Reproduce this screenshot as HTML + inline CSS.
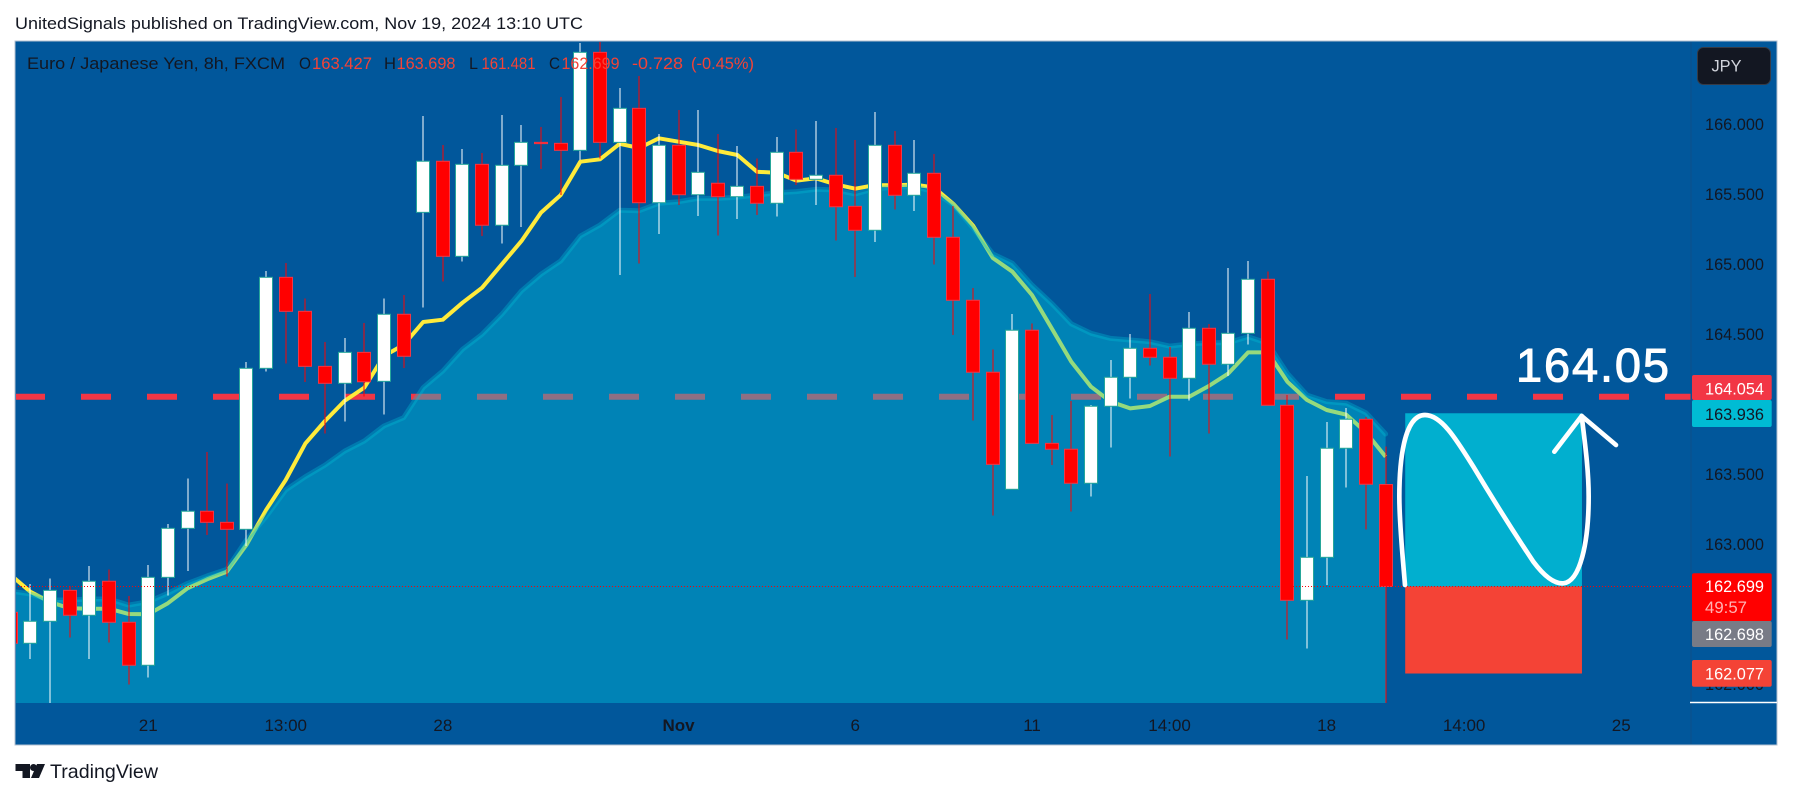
<!DOCTYPE html>
<html lang="en">
<head>
<meta charset="utf-8">
<title>EUR/JPY 8h chart</title>
<style>
html,body{margin:0;padding:0;background:#fff;width:1793px;height:798px;overflow:hidden}
svg{display:block;font-family:"Liberation Sans",Arial,sans-serif}
</style>
</head>
<body>
<svg id="chart" xmlns="http://www.w3.org/2000/svg" width="1793" height="798" viewBox="0 0 1793 798">
  <defs>
    <clipPath id="paneClip"><rect x="16" y="42" width="1675" height="661"/></clipPath>
  </defs>
  <rect x="0" y="0" width="1793" height="798" fill="#ffffff"/>
  <text x="15" y="29" font-size="17" fill="#131722" textLength="568" lengthAdjust="spacingAndGlyphs">UnitedSignals published on TradingView.com, Nov 19, 2024 13:10 UTC</text>
  <rect x="15" y="41" width="1762" height="704" fill="#01579b" stroke="#b4c0d0" stroke-width="1"/>
  <g id="paneMarks" clip-path="url(#paneClip)"></g>
  <line x1="1691" y1="42" x2="1691" y2="744" stroke="#0d4f8a" stroke-width="1"/>
  <line x1="1690" y1="702.5" x2="1777" y2="702.5" stroke="#ffffff" stroke-width="1.5"/>
  <g id="legend" font-size="17">
    <text x="27" y="69" fill="#131722" textLength="258" lengthAdjust="spacingAndGlyphs">Euro / Japanese Yen, 8h, FXCM</text>
    <text x="299" y="69" fill="#131722" textLength="12" lengthAdjust="spacingAndGlyphs">O</text>
    <text x="312" y="69" fill="#f44336" textLength="60" lengthAdjust="spacingAndGlyphs">163.427</text>
    <text x="384" y="69" fill="#131722" textLength="12" lengthAdjust="spacingAndGlyphs">H</text>
    <text x="396.5" y="69" fill="#f44336" textLength="59" lengthAdjust="spacingAndGlyphs">163.698</text>
    <text x="469" y="69" fill="#131722" textLength="9" lengthAdjust="spacingAndGlyphs">L</text>
    <text x="481.5" y="69" fill="#f44336" textLength="54" lengthAdjust="spacingAndGlyphs">161.481</text>
    <text x="549" y="69" fill="#131722" textLength="11" lengthAdjust="spacingAndGlyphs">C</text>
    <text x="561.5" y="69" fill="#f44336" textLength="58" lengthAdjust="spacingAndGlyphs">162.699</text>
    <text x="632" y="69" fill="#f44336" textLength="51" lengthAdjust="spacingAndGlyphs">-0.728</text>
    <text x="691" y="69" fill="#f44336" textLength="63" lengthAdjust="spacingAndGlyphs">(-0.45%)</text>
  </g>
  <g id="priceTicks"></g>
  <g id="timeTicks"></g>
  <g>
    <rect x="1697.5" y="47.5" width="73" height="37" rx="6" fill="#131722" stroke="#363a45" stroke-width="1"/>
    <text x="1711.5" y="71.5" font-size="17" fill="#d1d4dc" textLength="30" lengthAdjust="spacingAndGlyphs">JPY</text>
  </g>
  <g id="priceLabels"></g>
  <g>
    <path d="M15.5 764H30v14h-7.5v-7h-7z" fill="#131722"/>
    <circle cx="33.5" cy="767.5" r="3.5" fill="#131722"/>
    <path d="M37 764h8l-6 14h-8z" fill="#131722"/>
    <text x="50" y="778" font-size="19.5" fill="#131722" textLength="108" lengthAdjust="spacingAndGlyphs">TradingView</text>
  </g>
</svg>
<script>
// Bars run oldest to newest; the first bar is clipped by the pane's left edge.
const opens=[162.514,162.293,162.45,162.671,162.493,162.736,162.443,162.136,162.764,163.114,163.236,163.157,163.107,164.257,164.907,164.664,164.271,164.15,164.371,164.164,164.643,165.371,165.736,165.057,165.714,165.279,165.707,165.871,165.864,165.814,166.514,165.871,166.114,165.44,165.85,165.497,165.579,165.483,165.557,165.436,165.8,165.607,165.636,165.414,165.243,165.85,165.493,165.65,165.193,164.743,164.229,163.393,164.529,163.721,163.679,163.436,163.986,164.193,164.4,164.336,164.186,164.543,164.286,164.507,164.893,163.993,162.6,162.907,163.686,163.893,163.427];
const highs=[162.514,162.716,162.757,162.702,162.845,162.821,162.631,162.852,163.145,163.471,163.659,163.436,164.302,164.952,165.011,164.754,164.445,164.474,164.581,164.754,164.779,166.059,165.852,165.824,165.795,166.066,165.995,165.981,166.195,166.581,166.595,166.261,166.345,165.931,166.102,166.102,165.931,165.845,165.757,165.909,165.964,166.024,165.974,165.888,166.088,165.952,165.888,165.788,165.416,164.829,164.393,164.645,164.576,163.924,164.024,163.995,164.316,164.502,164.788,164.411,164.659,164.574,164.974,165.024,164.95,164.066,163.488,163.874,163.974,163.909,163.698];
const lows=[162.293,162.179,161.866,162.336,162.179,162.297,161.997,162.047,162.633,162.811,163.066,162.769,162.988,164.233,164.29,164.161,163.79,163.876,164.054,163.926,164.261,164.69,164.876,165.019,165.202,165.147,165.266,165.681,165.495,165.745,165.757,164.924,165.007,165.216,165.424,165.345,165.204,165.324,165.352,165.34,165.566,165.424,165.169,164.911,165.161,165.393,165.381,164.997,164.495,163.883,163.204,163.393,163.721,163.566,163.233,163.34,163.69,164.04,164.276,163.626,164.026,163.793,164.202,164.426,163.993,162.319,162.254,162.709,163.404,163.107,161.481];
const closes=[162.293,162.45,162.671,162.493,162.736,162.443,162.136,162.764,163.114,163.236,163.157,163.107,164.257,164.907,164.664,164.271,164.15,164.371,164.161,164.643,164.343,165.736,165.057,165.714,165.279,165.707,165.871,165.862,165.814,166.514,165.871,166.114,165.44,165.85,165.497,165.657,165.483,165.557,165.436,165.8,165.607,165.636,165.411,165.243,165.85,165.493,165.65,165.193,164.743,164.229,163.571,164.529,163.721,163.679,163.436,163.986,164.193,164.4,164.336,164.186,164.543,164.286,164.507,164.893,163.993,162.6,162.907,163.686,163.893,163.429,162.699];
const emaFast=[162.781,162.661,162.588,162.543,162.54,162.54,162.502,162.5,162.579,162.686,162.75,162.804,162.995,163.245,163.459,163.721,163.881,164.024,164.119,164.345,164.424,164.588,164.604,164.726,164.833,165.0,165.166,165.369,165.495,165.733,165.75,165.861,165.831,165.9,165.876,165.852,165.809,165.781,165.661,165.654,165.597,165.614,165.571,165.54,165.566,165.564,165.569,165.55,165.431,165.276,165.045,164.947,164.781,164.543,164.304,164.126,164.019,163.971,163.988,164.054,164.054,164.131,164.221,164.371,164.371,164.161,164.031,163.959,163.926,163.8,163.626];
const emaSlow=[162.666,162.645,162.602,162.602,162.609,162.609,162.566,162.59,162.65,162.721,162.774,162.821,163.031,163.197,163.388,163.483,163.566,163.666,163.738,163.845,163.904,164.119,164.238,164.393,164.5,164.643,164.809,164.929,165.024,165.202,165.281,165.386,165.383,165.436,165.447,165.471,165.471,165.479,165.495,165.511,165.519,165.536,165.531,165.502,165.54,165.55,165.554,165.519,165.424,165.259,165.074,165.007,164.852,164.721,164.574,164.507,164.471,164.459,164.447,164.416,164.431,164.44,164.44,164.483,164.436,164.221,164.066,164.019,164.007,163.94,163.788];
const priceTickValues=[166,165.5,165,164.5,164,163.5,163,162.5,162];
const timeTickLabels=["21","13:00","28","Nov","6","11","14:00","18","14:00","25"];
const timeTickBars=[7,14,22,34,43,52,59,67,74,82];
const keyLevel=164.054;
const lastClose=162.699;
const positionEntry=162.698;
const positionTarget=163.936;
const positionStop=162.077;
const positionStartBar=71;
const positionEndBar=80;
const annotationLabel="164.05";

const SVGNS="http://www.w3.org/2000/svg";
function xAxis(bar){return 10.76+19.64*bar;}
function yAxis(price){return 544.3-(price-163)*140;}
function make(tag,parent){const el=document.createElementNS(SVGNS,tag);parent.appendChild(el);return el;}
function set(el,attrs){for(const k in attrs){el.setAttribute(k,attrs[k]);}return el;}
const pane=document.getElementById("paneMarks");

// Dashed key level, drawn below the cloud
const levelLine=make("line",pane);


set(levelLine,{x1:15,x2:1691,y1:yAxis(keyLevel),y2:yAxis(keyLevel),stroke:"#f23645","stroke-width":6,"stroke-dasharray":"30 36"});

// Fast EMA, under the translucent cloud so it turns green inside it
const fastPts=emaFast.map((v,i)=>xAxis(i).toFixed(1)+","+yAxis(v).toFixed(1)).join(" ");
const fastLine=make("polyline",pane);


set(fastLine,{points:fastPts,fill:"none",stroke:"#ffeb3b","stroke-width":4,"stroke-linejoin":"round"});

// Slow EMA with area fill down to the pane bottom
const slowPts=emaSlow.map((v,i)=>xAxis(i).toFixed(1)+","+yAxis(v).toFixed(1));
const areaEl=make("polygon",pane);


set(areaEl,{points:slowPts.join(" ")+" "+xAxis(emaSlow.length-1).toFixed(1)+",703 "+xAxis(0).toFixed(1)+",703",fill:"rgb(0,195,221)","fill-opacity":0.41});
const slowLine=make("polyline",pane);


set(slowLine,{points:slowPts.join(" "),fill:"none",stroke:"#00bcd4","stroke-opacity":0.35,"stroke-width":5,"stroke-linejoin":"round","stroke-linecap":"round"});

// Candles
closes.forEach((c,i)=>{
  const o=opens[i],up=c>=o,cx=xAxis(i);
  const wx=Math.round(cx);
  const wick=make("rect",pane);
  
  
  set(wick,{x:wx-0.5,y:yAxis(highs[i]),width:1,height:yAxis(lows[i])-yAxis(highs[i]),fill:up?"#ffffff":"#ff0000","shape-rendering":"crispEdges"});
  const top=yAxis(Math.max(o,c)),bot=yAxis(Math.min(o,c));
  const body=make("rect",pane);
  
  
  set(body,{x:wx-6.5,y:top,width:13,height:Math.max(bot-top,1),fill:up?"#ffffff":"#ff0000",stroke:up?"#26a69a":"#f23645","stroke-width":1});
});

// Position tool zones
const zoneX=xAxis(positionStartBar),zoneW=xAxis(positionEndBar)-zoneX;
const profitZone=make("rect",pane);


set(profitZone,{x:zoneX,y:yAxis(positionTarget),width:zoneW,height:yAxis(positionEntry)-yAxis(positionTarget),fill:"#01afcf"});
const stopZone=make("rect",pane);


set(stopZone,{x:zoneX,y:yAxis(positionEntry),width:zoneW,height:yAxis(positionStop)-yAxis(positionEntry),fill:"#f44336"});

// Dotted last-price line
const lastLine=make("line",pane);


set(lastLine,{x1:15,x2:1691,y1:Math.round(yAxis(lastClose))+0.5,y2:Math.round(yAxis(lastClose))+0.5,stroke:"#ff0000","stroke-width":1,"stroke-dasharray":"1 2"});

// Hand-drawn path annotation and arrow head
const handGroup=make("g",pane);


set(handGroup,{transform:"translate(1350 330) scale(.33333)",fill:"none",stroke:"#ffffff","stroke-width":14,"stroke-linecap":"round","stroke-linejoin":"round"});
const handCurve=make("path",handGroup);


handCurve.setAttribute("d","M165,765 C158,680 148,580 148,500 C148,400 160,255 225,255 C275,255 320,330 370,410 C430,510 490,605 550,695 C580,735 610,762 640,760 C690,755 716,640 716,500 C716,420 705,340 695,258");
const handArrow=make("path",handGroup);


handArrow.setAttribute("d","M613,365 L695,258 L798,345");

const bigLabel=make("text",pane);


set(bigLabel,{x:1516,y:381.5,"font-size":47,fill:"#ffffff",stroke:"#ffffff","stroke-width":1,textLength:153,lengthAdjust:"spacing"});
bigLabel.textContent=annotationLabel;

// Price axis ticks
const tickGroup=document.getElementById("priceTicks");
priceTickValues.forEach(v=>{
  const t=make("text",tickGroup);
  
  
  set(t,{x:1705,y:yAxis(v)+5.7,"font-size":17,fill:"#131722",textLength:59,lengthAdjust:"spacingAndGlyphs"});
  t.textContent=v.toFixed(3);
});

// Time axis ticks
const timeGroup=document.getElementById("timeTicks");
timeTickLabels.forEach((label,i)=>{
  const t=make("text",timeGroup);
  
  
  set(t,{x:xAxis(timeTickBars[i]),y:731,"font-size":17,fill:"#131722","text-anchor":"middle","font-weight":label==="Nov"?"bold":"normal"});
  t.textContent=label;
});

// Price axis flags
const labelGroup=document.getElementById("priceLabels");
function flag(name,price,top,h,bg,fg,base,extra){
  const r=make("rect",labelGroup);
  
  
  set(r,{x:1692,y:top,width:79.7,height:h,rx:2,fill:bg});
  const t=make("text",labelGroup);
  
  
  set(t,{x:1705,y:base,"font-size":17,fill:fg,textLength:59,lengthAdjust:"spacingAndGlyphs"});
  t.textContent=price.toFixed(3);
}
flag('key-level-flag',keyLevel,375,25,"#f23645","#ffffff",394.5);
flag('target-flag',positionTarget,400,27,"#00bcd4","#131722",420);
flag('stop-flag',positionStop,660,26.7,"#f44336","#ffffff",679.5);
flag('entry-flag',positionEntry,621,26,"#787b86","#ffffff",640);
flag('last-price-flag',lastClose,573.3,47.7,"#ff0000","#ffffff",592);
const countdown=make("text",labelGroup);


set(countdown,{x:1705,y:613,"font-size":17,fill:"#ffb3b3",textLength:42,lengthAdjust:"spacingAndGlyphs"});
countdown.textContent="49:57";
</script>
</body>
</html>
